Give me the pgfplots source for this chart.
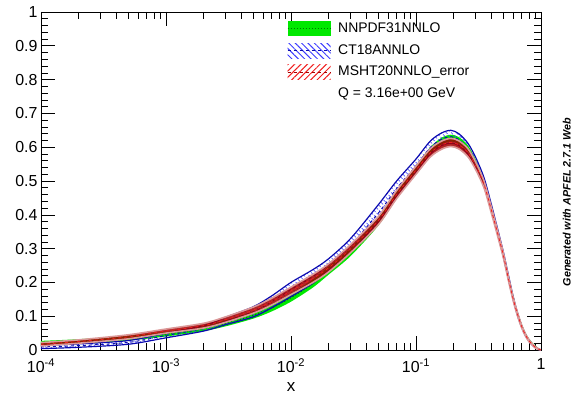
\documentclass[border=0pt]{standalone}
\usepackage{fontspec}
\setmainfont{Liberation Sans}
\usepackage{pgfplots}
\pgfplotsset{compat=1.18}
\usepackage{pgfplotstable}
\usetikzlibrary{patterns.meta}

\definecolor{ngreen}{RGB}{0,232,0}
\definecolor{ngreendark}{RGB}{0,120,0}
\definecolor{ctblue}{RGB}{10,10,175}
\definecolor{ctbluel}{RGB}{60,60,255}
\definecolor{msred}{RGB}{165,0,0}
\definecolor{msredl}{RGB}{240,30,30}

% central values and band edges
\pgfplotstableread{
x      gC     bU     bL     rU     rL     rC
1e-4   0.020  0.014  0.004  0.022  0.012  0.017
2e-4   0.025  0.018  0.008  0.030  0.020  0.025
5e-4   0.035  0.028  0.017  0.045  0.033  0.039
1e-3   0.047  0.050  0.036  0.062  0.050  0.056
2e-3   0.064  0.072  0.056  0.079  0.065  0.072
3e-3   0.079  0.097  0.075  0.098  0.082  0.090
5e-3   0.103  0.128  0.098  0.127  0.109  0.118
7e-3   0.125  0.160  0.125  0.153  0.133  0.143
1e-2   0.155  0.200  0.158  0.186  0.164  0.175
1.5e-2 0.197  0.238  0.198  0.224  0.200  0.212
2e-2   0.235  0.270  0.235  0.255  0.231  0.243
3e-2   0.290  0.330  0.290  0.312  0.288  0.300
5e-2   0.380  0.430  0.380  0.395  0.371  0.383
7e-2   0.460  0.500  0.455  0.472  0.448  0.460
0.10   0.535  0.565  0.525  0.544  0.520  0.532
0.13   0.590  0.618  0.580  0.595  0.571  0.583
0.16   0.618  0.642  0.605  0.618  0.594  0.606
0.19   0.627  0.650  0.612  0.626  0.602  0.614
0.22   0.620  0.640  0.605  0.619  0.595  0.607
0.26   0.597  0.612  0.580  0.596  0.572  0.584
0.30   0.555  0.570  0.540  0.556  0.534  0.545
0.35   0.495  0.510  0.485  0.500  0.480  0.490
0.40   0.420  0.432  0.412  0.424  0.406  0.415
0.45   0.350  0.358  0.342  0.353  0.337  0.345
0.50   0.283  0.290  0.275  0.287  0.273  0.280
0.55   0.215  0.220  0.207  0.216  0.204  0.210
0.60   0.155  0.157  0.147  0.155  0.145  0.150
0.65   0.108  0.109  0.101  0.110  0.100  0.105
0.70   0.073  0.073  0.067  0.074  0.066  0.070
0.75   0.048  0.047  0.043  0.048  0.042  0.045
0.80   0.030  0.030  0.026  0.031  0.025  0.028
0.85   0.019  0.018  0.015  0.019  0.015  0.017
0.90   0.010  0.009  0.007  0.010  0.006  0.008
0.95   0.004  0.004  0.002  0.004  0.002  0.003
1.00   0.000  0.000  0.000  0.000  0.000  0.000
}\pdfdata

% NNPDF31 band outline: upper edge forward, lower edge back
\pgfplotstableread{
x      y
1e-4   0.027
2e-4   0.032
5e-4   0.042
1e-3   0.054
2e-3   0.072
3e-3   0.088
5e-3   0.113
7e-3   0.136
1e-2   0.167
1.5e-2 0.209
2e-2   0.247
3e-2   0.302
5e-2   0.392
7e-2   0.472
0.10   0.546
0.13   0.600
0.16   0.628
0.19   0.637
0.22   0.630
0.26   0.606
0.30   0.564
0.35   0.503
0.40   0.428
0.45   0.357
0.50   0.290
0.55   0.221
0.60   0.161
0.65   0.113
0.70   0.078
0.75   0.052
0.80   0.034
0.85   0.022
0.90   0.013
0.95   0.006
1.00   0.000
0.95   0.002
0.90   0.007
0.85   0.016
0.80   0.026
0.75   0.044
0.70   0.068
0.65   0.103
0.60   0.149
0.55   0.209
0.50   0.276
0.45   0.343
0.40   0.412
0.35   0.487
0.30   0.546
0.26   0.588
0.22   0.610
0.19   0.617
0.16   0.608
0.13   0.580
0.10   0.524
7e-2   0.448
5e-2   0.368
3e-2   0.278
2e-2   0.223
1.5e-2 0.185
1e-2   0.143
7e-3   0.114
5e-3   0.093
3e-3   0.070
2e-3   0.056
1e-3   0.040
5e-4   0.028
2e-4   0.018
1e-4   0.013
}\gband

% CT18 band outline
\pgfplotstableread{
x      y
1e-4   0.014
2e-4   0.018
5e-4   0.028
1e-3   0.050
2e-3   0.072
3e-3   0.097
5e-3   0.128
7e-3   0.160
1e-2   0.200
1.5e-2 0.238
2e-2   0.270
3e-2   0.330
5e-2   0.430
7e-2   0.500
0.10   0.565
0.13   0.618
0.16   0.642
0.19   0.650
0.22   0.640
0.26   0.612
0.30   0.570
0.35   0.510
0.40   0.432
0.45   0.358
0.50   0.290
0.55   0.220
0.60   0.157
0.65   0.109
0.70   0.073
0.75   0.047
0.80   0.030
0.85   0.018
0.90   0.009
0.95   0.004
1.00   0.000
0.95   0.002
0.90   0.007
0.85   0.015
0.80   0.026
0.75   0.043
0.70   0.067
0.65   0.101
0.60   0.147
0.55   0.207
0.50   0.275
0.45   0.342
0.40   0.412
0.35   0.485
0.30   0.540
0.26   0.580
0.22   0.605
0.19   0.612
0.16   0.605
0.13   0.580
0.10   0.525
7e-2   0.455
5e-2   0.380
3e-2   0.290
2e-2   0.235
1.5e-2 0.198
1e-2   0.158
7e-3   0.125
5e-3   0.098
3e-3   0.075
2e-3   0.056
1e-3   0.036
5e-4   0.017
2e-4   0.008
1e-4   0.004
}\bband

% MSHT20 band outline
\pgfplotstableread{
x      y
1e-4   0.022
2e-4   0.030
5e-4   0.045
1e-3   0.062
2e-3   0.079
3e-3   0.098
5e-3   0.127
7e-3   0.153
1e-2   0.186
1.5e-2 0.224
2e-2   0.255
3e-2   0.312
5e-2   0.395
7e-2   0.472
0.10   0.544
0.13   0.595
0.16   0.618
0.19   0.626
0.22   0.619
0.26   0.596
0.30   0.556
0.35   0.500
0.40   0.424
0.45   0.353
0.50   0.287
0.55   0.216
0.60   0.155
0.65   0.110
0.70   0.074
0.75   0.048
0.80   0.031
0.85   0.019
0.90   0.010
0.95   0.004
1.00   0.000
0.95   0.002
0.90   0.006
0.85   0.015
0.80   0.025
0.75   0.042
0.70   0.066
0.65   0.100
0.60   0.145
0.55   0.204
0.50   0.273
0.45   0.337
0.40   0.406
0.35   0.480
0.30   0.534
0.26   0.572
0.22   0.595
0.19   0.602
0.16   0.594
0.13   0.571
0.10   0.520
7e-2   0.448
5e-2   0.371
3e-2   0.288
2e-2   0.231
1.5e-2 0.200
1e-2   0.164
7e-3   0.133
5e-3   0.109
3e-3   0.082
2e-3   0.065
1e-3   0.050
5e-4   0.033
2e-4   0.020
1e-4   0.012
}\rband

\begin{document}
\begin{tikzpicture}
\useasboundingbox (-41bp,-47bp) rectangle (533bp,350bp);
\begin{axis}[
  at={(0,0)}, anchor=south west,
  scale only axis, width=500bp, height=338bp,
  xmode=log, xmin=1e-4, xmax=1, ymin=0, ymax=1,
  xtick={1e-4,1e-3,1e-2,1e-1,1},
  xticklabels={10\textsuperscript{-4},10\textsuperscript{-3},10\textsuperscript{-2},10\textsuperscript{-1},1},
  ytick={0,0.1,0.2,0.3,0.4,0.5,0.6,0.7,0.8,0.9,1},
  yticklabels={0,0.1,0.2,0.3,0.4,0.5,0.6,0.7,0.8,0.9,1},
  minor y tick num=4,
  tick align=inside, tick pos=both,
  major tick length=14bp, minor tick length=7bp,
  tick style={black, line width=0.6pt},
  axis line style={line width=0.8pt},
  ticklabel style={font=\fontsize{16}{18}\selectfont},
  xticklabel style={yshift=-5bp},
  xlabel={x},
  xlabel style={font=\fontsize{17}{19}\selectfont, at={(rel axis cs:0.5,0)}, anchor=center, yshift=-37bp},
  legend style={at={(rel axis cs:0.492,0.976)}, anchor=north west, draw=none, fill=none,
     font=\fontsize{14}{16}\selectfont, row sep=4.7bp, inner sep=0pt,
     nodes={inner sep=2bp, text height=10bp, text depth=3bp}},
  legend cell align=left,
]
\addlegendimage{draw=none, legend image code/.code={
  \fill[ngreen, draw=none] (0bp,-7.5bp) rectangle (43bp,7.5bp);
  \draw[ngreendark, dotted, line width=1pt] (0bp,0bp) -- (43bp,0bp);}}
\addlegendentry{\hspace{5bp}NNPDF31NNLO}
\addlegendimage{draw=none, legend image code/.code={
  \path[draw=none, pattern={Lines[angle=-45, distance=4.5bp, line width=1bp]}, pattern color=ctbluel] (0bp,-7.5bp) rectangle (43bp,7.5bp);
  \draw[ctblue, dashed, line width=1pt] (0bp,0bp) -- (43bp,0bp);}}
\addlegendentry{\hspace{5bp}CT18ANNLO}
\addlegendimage{draw=none, legend image code/.code={
  \path[draw=none, pattern={Lines[angle=45, distance=4.5bp, line width=1bp]}, pattern color=msredl] (0bp,-7.5bp) rectangle (43bp,7.5bp);
  \draw[msred, dashed, line width=1pt] (0bp,0bp) -- (43bp,0bp);}}
\addlegendentry{\hspace{5bp}MSHT20NNLO\_error}
\addlegendimage{empty legend}
\addlegendentry{\hspace{5bp}Q = 3.16e+00 GeV}

% NNPDF31
\addplot[fill=ngreen, draw=none, smooth, forget plot] table[x=x, y=y] {\gband};
\addplot[ngreendark, dotted, line width=1.2pt, smooth, forget plot] table[x=x, y=gC] {\pdfdata};

% CT18
\addplot[draw=none, smooth, pattern={Lines[angle=-45, distance=3.6bp, line width=0.7bp]}, pattern color=ctbluel, forget plot] table[x=x, y=y] {\bband};
\addplot[ctblue, line width=1.2pt, smooth, forget plot] table[x=x, y=bU] {\pdfdata};
\addplot[ctblue, line width=1.2pt, smooth, forget plot] table[x=x, y=bL] {\pdfdata};
\addplot[ctblue, dashed, line width=1pt, smooth, forget plot] table[x=x, y expr=(\thisrow{bL}+\thisrow{bU})/2] {\pdfdata};

% MSHT20
\addplot[draw=msred!40, line width=1.6pt, fill=msred, fill opacity=0.85, smooth, forget plot] table[x=x, y=y] {\rband};
\addplot[msredl, dashed, line width=0.8pt, smooth, forget plot] table[x=x, y=rC] {\pdfdata};
\end{axis}
\node[rotate=90, anchor=base, inner sep=0pt, font=\bfseries\itshape\fontsize{10.8}{13}\selectfont] at (529.5bp,148bp) {Generated with APFEL 2.7.1 Web};
\end{tikzpicture}
\end{document}
